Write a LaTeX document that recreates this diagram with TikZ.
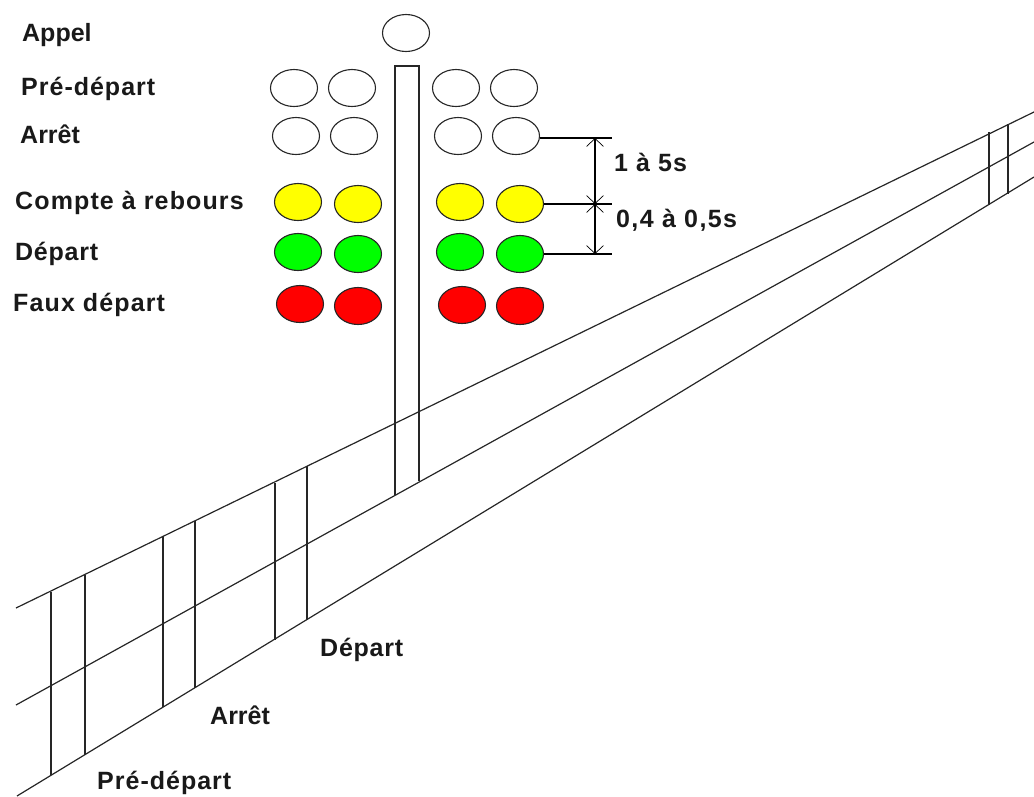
\documentclass[tikz,border=0pt]{standalone}
\usepackage{fontspec}
\setmainfont{Liberation Sans}
\usetikzlibrary{arrows.meta,shapes.geometric}
\newcommand{\lsp}[1]{\addfontfeature{LetterSpace=#1}}
\definecolor{lampY}{RGB}{255,255,0}
\definecolor{lampG}{RGB}{0,255,0}
\definecolor{lampR}{RGB}{255,0,0}
\tikzset{
  x=1pt,y=-1pt,
  lamp/.style={draw=black!85,line width=1.1pt,ellipse,minimum width=47pt,minimum height=37pt,inner sep=0pt},
  off/.style={lamp,fill=white},
  yel/.style={lamp,fill=lampY},
  grn/.style={lamp,fill=lampG},
  rd/.style={lamp,fill=lampR},
  lbl/.style={anchor=base west,inner sep=0pt,font=\fontsize{25}{28}\selectfont\bfseries,text=black!90},
  rail/.style={draw=black!85,line width=1.2pt},
  sleeper/.style={draw=black!85,line width=1.3pt},
  leader/.style={draw=black,line width=1.1pt},
  dim/.style={draw=black,line width=1.1pt,{Straight Barb[length=8pt,width=17pt,line width=.7pt]}-{Straight Barb[length=8pt,width=17pt,line width=.7pt]}},
  knot/.style={circle,fill=black,inner sep=0pt,minimum size=#1},
}
\begin{document}
\begin{tikzpicture}
\useasboundingbox (0,0) rectangle (1034,796);
% labels
\node[lbl] (lAppel) at (22,41) {Appel};
\node[lbl] (lPre) at (21,95) {\lsp{4}Pré-départ};
\node[lbl] (lArret) at (20,143) {Arrêt};
\node[lbl] (lCompte) at (15,209) {\lsp{4.5}Compte à rebours};
\node[lbl] (lDepart) at (15,260) {\lsp{3}Départ};
\node[lbl] (lFaux) at (13,311) {\lsp{4.5}Faux départ};
\node[lbl] (t1) at (614,171) {\lsp{4.5}1 à 5s};
\node[lbl] (t2) at (616,227) {\lsp{5.5}0,4 à 0,5s};
\node[lbl] (bDepart) at (320,656) {\lsp{3}Départ};
\node[lbl] (bArret) at (210,724) {Arrêt};
\node[lbl] (bPre) at (97,789) {\lsp{4}Pré-départ};
% rails
\coordinate (r1a) at (16,608); \coordinate (r1b) at (1034,112);
\coordinate (r2a) at (16,705); \coordinate (r2b) at (1034,142);
\coordinate (r3a) at (17,796); \coordinate (r3b) at (1034,177);
\draw[rail] (r1a) -- (r1b);
\draw[rail] (r2a) -- (r2b);
\draw[rail] (r3a) -- (r3b);
% sleepers
\foreach \n/\x/\a/\b in {s1/51/592/775,s2/85/575/755,s3/163/536/707,s4/195/521/688,s5/275/483/640,s6/307/466/620,s7/989/132/205,s8/1008/124/194}{
  \coordinate (\n a) at (\x,\a); \coordinate (\n b) at (\x,\b);
  \draw[sleeper] (\n a) -- (\n b);
}
% pole
\coordinate (p1) at (395,495); \coordinate (p2) at (395,66); \coordinate (p3) at (419,66); \coordinate (p4) at (419,481);
\draw[sleeper] (p1) -- (p2) -- (p3) -- (p4);
% lamps
\node[off] (appel) at (406,33) {};
\foreach \n/\x/\y/\s in {
 a1/294/88/off,a2/352/88/off,a3/456/88/off,a4/514/88/off,
 b1/296/136/off,b2/354/136/off,b3/458/136/off,b4/516/136/off,
 c1/298/202/yel,c2/358/204/yel,c3/460/202/yel,c4/520/204/yel,
 d1/298/252/grn,d2/358/254/grn,d3/460/252/grn,d4/520/254/grn,
 e1/300/304/rd,e2/358/306/rd,e3/462/305/rd,e4/520/306/rd}{
  \node[\s] (\n) at (\x,\y) {};
}
% dimensions
\coordinate (e1t) at (612,138); \coordinate (e2t) at (612,204); \coordinate (e3t) at (612,254);
\coordinate (m1) at (595,138); \node[knot=4pt] (m2) at (595,204) {}; \coordinate (m3) at (595,254);
\draw[leader] (b4.east) ++(0,2) -- (e1t);
\draw[leader] (c4.east) -- (e2t);
\draw[leader] (d4.east) -- (e3t);
\draw[dim] (m1) -- (m2.center);
\draw[dim] (m2.center) -- (m3);
\end{tikzpicture}
\end{document}
